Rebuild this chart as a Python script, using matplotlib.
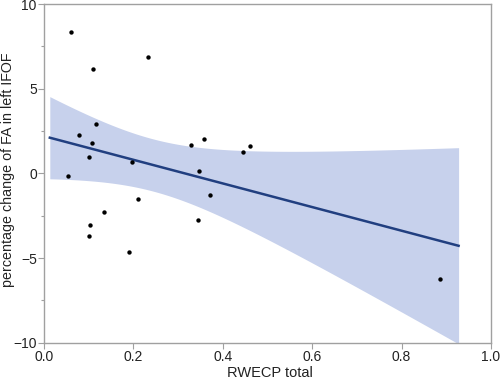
import numpy as np
from matplotlib import pyplot as plt
from matplotlib.ticker import MultipleLocator

# RWECP total vs percentage change of FA in left IFOF
rwecp = [0.061, 0.110, 0.234, 0.117, 0.079, 0.108, 0.100, 0.197, 0.055, 0.330,
         0.359, 0.445, 0.461, 0.348, 0.371, 0.210, 0.135, 0.104, 0.100, 0.345,
         0.191, 0.886]
fa_change = [8.33, 6.18, 6.85, 2.91, 2.26, 1.79, 0.98, 0.67, -0.14, 1.69,
             2.05, 1.24, 1.63, 0.12, -1.28, -1.54, -2.30, -3.05, -3.68, -2.76,
             -4.65, -6.24]

x_ticks = [0.0, 0.2, 0.4, 0.6, 0.8, 1.0]
y_ticks = [-10, -5, 0, 5, 10]

plt.rcParams["font.family"] = ["Liberation Sans", "DejaVu Sans"]

x = np.asarray(rwecp)
y = np.asarray(fa_change)
n = len(x)

# ordinary least squares fit with 95% confidence band for the mean
slope, intercept = np.polyfit(x, y, 1)
resid = y - (slope * x + intercept)
s = np.sqrt(np.sum(resid ** 2) / (n - 2))
sxx = np.sum((x - x.mean()) ** 2)
t_crit = 2.086  # t(0.975, df=20)

pad = 0.05 * (x.max() - x.min())
grid = np.linspace(x.min() - pad, x.max() + pad, 200)
fit = slope * grid + intercept
half = t_crit * s * np.sqrt(1.0 / n + (grid - x.mean()) ** 2 / sxx)

fig = plt.figure(figsize=(5.0, 3.82), dpi=100)
ax = fig.add_axes([0.0876, 0.1029, 0.8944, 0.8866])

ax.fill_between(grid, fit - half, fit + half, color="#c7d1ec", linewidth=0, zorder=1)
ax.plot(grid, fit, color="#213f80", linewidth=1.8, zorder=2)
ax.scatter(x, y, s=10, color="black", zorder=3, linewidths=0)

ax.set_xlim(0, 1.0)
ax.set_ylim(-10, 10)
ax.set_xticks(x_ticks)
ax.set_xticklabels([f"{v:.1f}" for v in x_ticks])
ax.set_yticks(y_ticks)
ax.yaxis.set_minor_locator(MultipleLocator(2.5))

for sp in ax.spines.values():
    sp.set_color("#a0a0a0")
    sp.set_linewidth(1.0)
ax.tick_params(which="major", length=4, width=0.8, color="#a0a0a0",
               labelsize=10, labelcolor="#222222", pad=1)
ax.tick_params(which="minor", length=2, width=0.8, color="#a0a0a0")

ax.set_xlabel("RWECP total", fontsize=10.5, color="#222222")
ax.set_ylabel("percentage change of FA in left IFOF", fontsize=10.3,
              color="#222222")
ax.xaxis.set_label_coords(0.505, -0.07)
ax.yaxis.set_label_coords(-0.064, 0.51)

fig.savefig("out.png", dpi=100)
plt.close(fig)
